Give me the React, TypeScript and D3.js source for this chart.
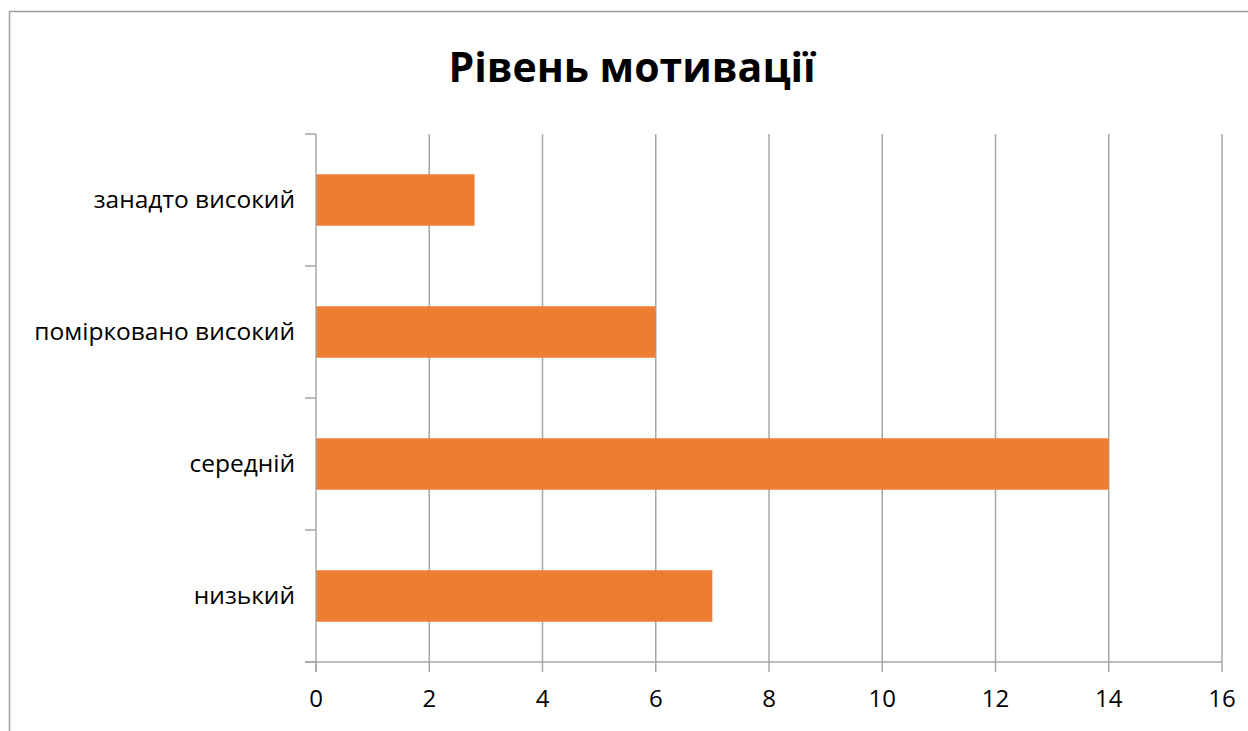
import * as d3 from 'd3'

const TITLE = 'Рівень мотивації'
const CATEGORIES = ['занадто високий', 'помірковано високий', 'середній', 'низький']
const VALUES = [2.8, 6, 14, 7]
const X_TICKS = [0, 2, 4, 6, 8, 10, 12, 14, 16]

const FONT = '"Open Sans", "Noto Sans", sans-serif'
const GRID = '#a6a6a6'
const BAR = '#ED7D31'

export default function App() {
  const width = 1248
  const height = 731
  const margin = { top: 134, right: 26, bottom: 69, left: 316 }
  const innerW = width - margin.left - margin.right
  const innerH = height - margin.top - margin.bottom

  const x = d3.scaleLinear().domain([0, 16]).range([0, innerW])
  const y = d3.scaleBand().domain(CATEGORIES).range([0, innerH]).paddingInner(0.61).paddingOuter(0.305)
  const band = d3.scaleBand().domain(CATEGORIES).range([0, innerH])

  return (
    <div style={{ position: 'fixed', left: 0, top: 0, width, height, background: '#fff' }}>
      <svg width={width} height={height} style={{ display: 'block' }}>
        <rect x={9.5} y={11.5} width={width} height={height} fill="#fff" stroke="#a0a0a0" strokeWidth={1.5} />
        <text x={632} y={82} textAnchor="middle" fontFamily={FONT} fontWeight={700} fontSize={41} fill="#000">
          {TITLE}
        </text>
        <g transform={`translate(${margin.left},${margin.top})`}>
          {X_TICKS.map((t) => (
            <g key={t}>
              {t > 0 && <line x1={x(t)} x2={x(t)} y1={0} y2={innerH} stroke={GRID} strokeWidth={1.5} />}
              <line x1={x(t)} x2={x(t)} y1={innerH} y2={innerH + 10} stroke={GRID} strokeWidth={1.5} />
              <text x={x(t)} y={innerH + 45} textAnchor="middle" fontFamily={FONT} fontSize={24} fill="#000">
                {t}
              </text>
            </g>
          ))}
          {CATEGORIES.map((c, i) => (
            <g key={c}>
              <rect x={0} y={y(c)} width={x(VALUES[i])} height={y.bandwidth()} fill={BAR} />
              <text
                x={-21}
                y={band(c)! + band.bandwidth() / 2 + 8}
                textAnchor="end"
                fontFamily={FONT}
                fontSize={24.5}
                fill="#000"
              >
                {c}
              </text>
            </g>
          ))}
          {[0, ...CATEGORIES.map((c) => band(c)! + band.bandwidth())].map((v, i) => (
            <line key={i} x1={-11} x2={0} y1={v} y2={v} stroke={GRID} strokeWidth={1.5} />
          ))}
          <line x1={0} x2={0} y1={0} y2={innerH + 10} stroke={GRID} strokeWidth={1.5} />
          <line x1={-11} x2={innerW} y1={innerH} y2={innerH} stroke={GRID} strokeWidth={1.5} />
        </g>
      </svg>
    </div>
  )
}
